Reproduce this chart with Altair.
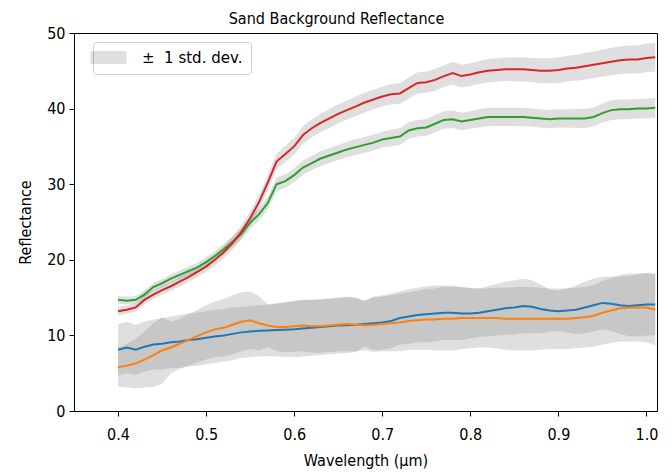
import altair as alt
import pandas as pd

# Wavelength samples (micrometres)
wavelength = [
    0.40, 0.41, 0.42, 0.43, 0.44, 0.45, 0.46, 0.47, 0.48, 0.49,
    0.50, 0.51, 0.52, 0.53, 0.54, 0.55, 0.56, 0.57, 0.58, 0.59,
    0.60, 0.61, 0.62, 0.63, 0.64, 0.65, 0.66, 0.67, 0.68, 0.69,
    0.70, 0.71, 0.72, 0.73, 0.74, 0.75, 0.76, 0.77, 0.78, 0.79,
    0.80, 0.81, 0.82, 0.83, 0.84, 0.85, 0.86, 0.87, 0.88, 0.89,
    0.90, 0.91, 0.92, 0.93, 0.94, 0.95, 0.96, 0.97, 0.98, 0.99,
    1.00, 1.01,
]

# Mean reflectance per sand sample
mean_s1 = [  # blue
    8.1, 8.4, 8.1, 8.5, 8.8, 8.9, 9.1, 9.2, 9.4, 9.5,
    9.7, 9.85, 10.0, 10.2, 10.4, 10.5, 10.6, 10.65, 10.7, 10.75,
    10.8, 10.9, 11.0, 11.1, 11.2, 11.3, 11.35, 11.4, 11.5, 11.6,
    11.7, 11.9, 12.3, 12.5, 12.7, 12.8, 12.9, 13.0, 13.0, 12.9,
    12.9, 13.0, 13.2, 13.4, 13.6, 13.7, 13.9, 13.8, 13.5, 13.3,
    13.2, 13.3, 13.4, 13.7, 14.0, 14.3, 14.2, 14.0, 13.9, 14.0,
    14.1, 14.1,
]
mean_s2 = [  # orange
    5.8, 6.0, 6.3, 6.8, 7.4, 8.0, 8.4, 8.9, 9.4, 9.9,
    10.4, 10.8, 11.0, 11.4, 11.8, 12.0, 11.6, 11.3, 11.1, 11.1,
    11.2, 11.3, 11.2, 11.2, 11.3, 11.4, 11.5, 11.4, 11.35, 11.4,
    11.5, 11.6, 11.7, 11.9, 12.0, 12.1, 12.1, 12.2, 12.2, 12.3,
    12.3, 12.3, 12.3, 12.3, 12.2, 12.2, 12.2, 12.2, 12.2, 12.2,
    12.2, 12.2, 12.3, 12.4, 12.6, 13.0, 13.3, 13.6, 13.7, 13.7,
    13.7, 13.4,
]
mean_s3 = [  # green
    14.7, 14.6, 14.7, 15.4, 16.4, 16.9, 17.5, 18.0, 18.5, 19.0,
    19.7, 20.5, 21.4, 22.4, 23.4, 24.9, 26.0, 27.5, 30.0, 30.4,
    31.2, 32.2, 32.8, 33.4, 33.8, 34.2, 34.6, 34.9, 35.2, 35.5,
    35.9, 36.1, 36.3, 37.1, 37.4, 37.5, 38.0, 38.5, 38.6, 38.3,
    38.5, 38.7, 38.9, 38.9, 38.9, 38.9, 38.9, 38.8, 38.7, 38.6,
    38.7, 38.7, 38.7, 38.7, 38.9, 39.4, 39.8, 39.9, 39.9, 40.0,
    40.0, 40.1,
]
mean_s4 = [  # red
    13.2, 13.4, 13.7, 14.7, 15.4, 16.0, 16.5, 17.1, 17.7, 18.4,
    19.1, 20.0, 21.0, 22.2, 23.7, 25.5, 27.6, 30.2, 33.0, 34.0,
    35.0, 36.5, 37.4, 38.1, 38.7, 39.3, 39.8, 40.3, 40.8, 41.2,
    41.6, 41.9, 42.0, 42.7, 43.4, 43.5, 43.8, 44.3, 44.7, 44.3,
    44.5, 44.8, 45.0, 45.1, 45.2, 45.2, 45.2, 45.1, 45.0, 45.0,
    45.1, 45.3, 45.4, 45.6, 45.8, 46.0, 46.2, 46.4, 46.5, 46.5,
    46.7, 46.8,
]

# Standard deviation per sand sample
std_s1 = [
    3.4, 3.4, 3.3, 3.3, 3.3, 3.4, 3.4, 3.5, 3.5, 3.5,
    3.5, 3.5, 3.5, 3.5, 3.4, 3.4, 3.4, 3.4, 3.5, 3.6,
    3.7, 3.7, 3.7, 3.7, 3.7, 3.7, 3.7, 3.6, 3.0, 3.5,
    3.6, 3.6, 3.5, 3.6, 3.6, 3.7, 3.7, 3.6, 3.6, 3.5,
    3.3, 3.2, 3.3, 3.4, 3.5, 3.6, 3.6, 3.5, 3.2, 2.8,
    2.7, 2.9, 3.2, 3.4, 3.5, 3.5, 3.6, 3.8, 4.0, 4.1,
    4.1, 4.1,
]
std_s2 = [
    2.6, 2.9, 3.3, 3.7, 4.2, 4.4, 3.4, 3.3, 3.4, 3.5,
    3.6, 3.7, 3.8, 3.9, 3.9, 3.8, 3.6, 2.8, 3.2, 3.3,
    3.4, 3.4, 3.5, 3.5, 3.5, 3.5, 3.6, 3.5, 3.3, 3.6,
    3.6, 3.7, 3.8, 3.8, 3.9, 4.0, 4.1, 4.2, 4.2, 4.1,
    4.0, 3.9, 3.9, 4.0, 4.1, 4.2, 4.2, 4.2, 4.1, 4.0,
    4.0, 4.0, 4.0, 4.0, 4.1, 4.2, 4.3, 4.4, 4.5, 4.5,
    4.6, 4.7,
]
std_s3 = [
    0.5, 0.5, 0.5, 0.55, 0.55, 0.55, 0.6, 0.6, 0.6, 0.6,
    0.65, 0.65, 0.7, 0.7, 0.75, 0.8, 0.8, 0.85, 0.9, 0.9,
    0.9, 0.95, 0.95, 1.0, 1.0, 1.0, 1.0, 1.05, 1.05, 1.05,
    1.05, 1.1, 1.1, 1.1, 1.1, 1.1, 1.15, 1.15, 1.15, 1.15,
    1.15, 1.2, 1.2, 1.2, 1.2, 1.2, 1.2, 1.2, 1.2, 1.2,
    1.2, 1.2, 1.25, 1.25, 1.25, 1.25, 1.3, 1.3, 1.3, 1.3,
    1.3, 1.3,
]
std_s4 = [
    0.55, 0.55, 0.55, 0.6, 0.6, 0.6, 0.6, 0.65, 0.65, 0.7,
    0.7, 0.75, 0.8, 0.8, 0.85, 0.9, 0.95, 1.0, 1.05, 1.05,
    1.1, 1.15, 1.2, 1.2, 1.25, 1.25, 1.25, 1.3, 1.3, 1.3,
    1.3, 1.35, 1.35, 1.4, 1.4, 1.4, 1.45, 1.45, 1.5, 1.5,
    1.5, 1.5, 1.55, 1.55, 1.55, 1.6, 1.6, 1.6, 1.65, 1.65,
    1.7, 1.7, 1.7, 1.75, 1.75, 1.8, 1.8, 1.85, 1.85, 1.85,
    1.9, 1.9,
]

series_names = ["s1", "s2", "s3", "s4"]
series_colors = ["#1f77b4", "#ff7f0e", "#2ca02c", "#d62728"]
means = [mean_s1, mean_s2, mean_s3, mean_s4]
stds = [std_s1, std_s2, std_s3, std_s4]

rows = []
for name, m, s in zip(series_names, means, stds):
    for w, mv, sv in zip(wavelength, m, s):
        rows.append({"w": w, "series": name, "mean": mv, "std": sv})
df = pd.DataFrame(rows)

FONT = "DejaVu Sans Condensed, DejaVu Sans"
LEGEND_FONT = "DejaVu Sans"
BAND_LABEL = "±\u00a0\u00a01 std. dev."

x_enc = alt.X(
    "w:Q",
    scale=alt.Scale(domain=[0.35, 1.012], nice=False, zero=False),
    axis=alt.Axis(
        values=[0.4, 0.5, 0.6, 0.7, 0.8, 0.9, 1.0],
        format=".1f",
        title="Wavelength (μm)",
    ),
)
y_scale = alt.Scale(domain=[0, 50], nice=False)
y_axis = alt.Axis(values=[0, 10, 20, 30, 40, 50], title="Reflectance")

base = alt.Chart(df)

# Shaded ±1 std. dev. envelope around each mean spectrum
bands = (
    base.transform_calculate(
        lo="datum.mean - datum.std",
        hi="datum.mean + datum.std",
        band=f"'{BAND_LABEL}'",
    )
    .mark_area(opacity=0.25, interpolate="linear")
    .encode(
        x=x_enc,
        y=alt.Y("lo:Q", scale=y_scale, axis=y_axis),
        y2="hi:Q",
        detail="series:N",
        fill=alt.Fill(
            "band:N",
            scale=alt.Scale(range=["#808080"]),
            legend=alt.Legend(
                title=None,
                orient="none",
                legendX=19,
                legendY=9,
                symbolType="M-2.77,-1L2.77,-1L2.77,1L-2.77,1Z",
                symbolSize=169,
                symbolOpacity=0.25,
                symbolStrokeWidth=0,
                labelFont=LEGEND_FONT,
                labelFontSize=15,
                labelColor="black",
                labelOffset=26,
                padding=8,
                strokeColor="#cccccc",
                fillColor="white",
                cornerRadius=3,
            ),
        ),
    )
)

# Mean spectra
lines = base.mark_line(strokeWidth=2).encode(
    x=x_enc,
    y=alt.Y("mean:Q", scale=y_scale, axis=y_axis),
    color=alt.Color(
        "series:N",
        scale=alt.Scale(domain=series_names, range=series_colors),
        legend=None,
    ),
)

chart = (
    alt.layer(bands, lines)
    .properties(
        width=583,
        height=378,
        autosize=alt.AutoSizeParams(type="none"),
        padding={"left": 74, "top": 33, "right": 15, "bottom": 61},
        title=alt.TitleParams(
            "Sand Background Reflectance",
            font=FONT,
            fontSize=16,
            fontWeight="normal",
            color="black",
            anchor="middle",
            dx=-29,
            offset=-2,
        ),
        background="white",
    )
    .configure_view(stroke="black", strokeWidth=1)
    .configure_axis(
        grid=False,
        domainColor="black",
        tickColor="black",
        tickSize=5,
        labelFont=FONT,
        labelFontSize=16,
        labelColor="black",
        titleFont=FONT,
        titleFontSize=16,
        titleFontWeight="normal",
        titleColor="black",
        labelPadding=4,
    )
    .configure_axisX(labelPadding=10, titlePadding=10)
    .configure_axisY(titlePadding=13)
)

chart.save("out.html", embed_options={"renderer": "svg", "actions": False})
